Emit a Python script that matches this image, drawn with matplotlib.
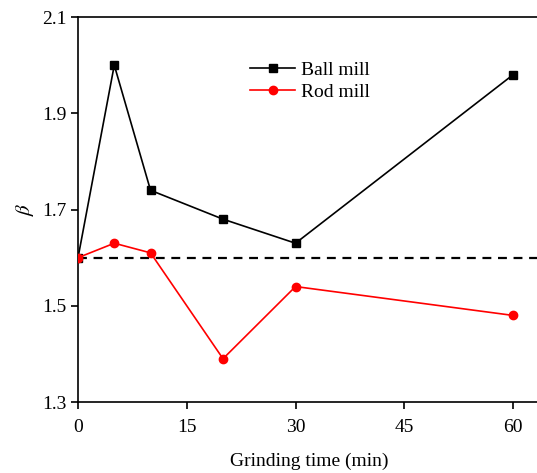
import matplotlib
matplotlib.use("Agg")
import matplotlib.pyplot as plt

plt.rcParams['font.family'] = ['Liberation Serif', 'DejaVu Serif']
plt.rcParams['mathtext.fontset'] = 'stix'

time_min = [0, 5, 10, 20, 30, 60]
ball_mill = [1.60, 2.00, 1.74, 1.68, 1.63, 1.98]
rod_mill = [1.60, 1.63, 1.61, 1.39, 1.54, 1.48]
reference_beta = 1.6
x_ticks = [0, 15, 30, 45, 60]
y_ticks = [1.3, 1.5, 1.7, 1.9, 2.1]

fig = plt.figure(figsize=(5.37, 4.73), dpi=100)
ax = fig.add_axes([0.1453, 0.150, 0.86, 0.814])

ax.axhline(reference_beta, color='black', linestyle=(0, (4, 3)), linewidth=1.6, zorder=1)
ax.plot(time_min, ball_mill, color='black', marker='s', markersize=6, linewidth=1.2, label='Ball mill', zorder=3)
ax.plot(time_min, rod_mill, color='red', marker='o', markersize=6, linewidth=1.2, label='Rod mill', zorder=3)

ax.set_xlim(0, 63.7)
ax.set_ylim(1.3, 2.1)
ax.set_xticks(x_ticks)
ax.set_yticks(y_ticks)
ax.set_yticklabels([f"{v:.1f}" for v in y_ticks])
ax.tick_params(direction='out', length=5, width=1.2, labelsize=14)
ax.tick_params(axis='x', pad=7)
ax.spines['right'].set_visible(False)
for s in ['left', 'bottom', 'top']:
    ax.spines[s].set_linewidth(1.2)

ax.set_xlabel('Grinding time (min)', fontsize=14, labelpad=12)
ax.set_ylabel(r'$\beta$', fontsize=15, labelpad=4)

ax.legend(loc='upper left', bbox_to_anchor=(0.335, 0.93), frameon=False, fontsize=14,
          handlelength=2.3, handletextpad=0.3, labelspacing=0.2)

fig.savefig('out.png', dpi=100)
